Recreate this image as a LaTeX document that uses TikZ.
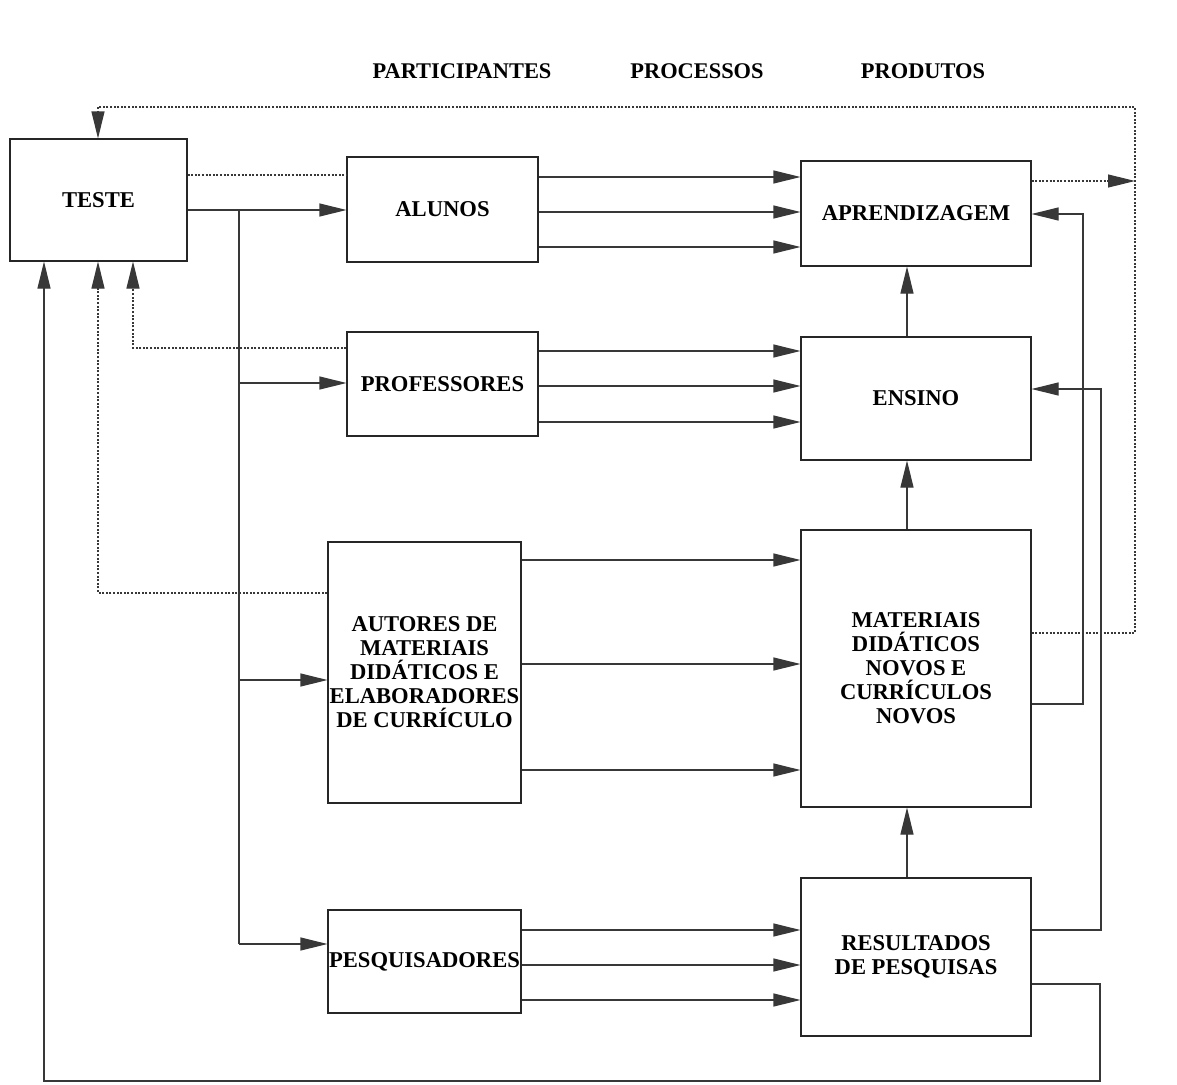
\documentclass[tikz,border=0pt]{standalone}
\usepackage{fontspec}
\setmainfont{Liberation Serif}
\usetikzlibrary{arrows.meta}
\begin{document}
\begin{tikzpicture}[x=1pt,y=-1pt,
  box/.style={draw=black!85,line width=1.1pt,inner sep=0pt,align=center,font=\fontsize{22.6}{24}\selectfont\bfseries},
  hdr/.style={font=\fontsize{22.4}{24}\selectfont\bfseries},
  link/.style={draw=black!78,line width=1.1pt},
  arr/.style={link,-{Triangle[length=27pt,width=13pt]}},
  dot/.style={draw=black!78,line width=1.1pt,dash pattern=on 2pt off 1.6pt},
  darr/.style={dot,-{Triangle[length=27pt,width=13pt]}}]
\useasboundingbox (0,0) rectangle (1177,1084);
\fill[white] (0,0) rectangle (1177,1084);

% headers
\node[hdr] (hpart) at (462,71) {PARTICIPANTES};
\node[hdr] (hproc) at (697,71) {PROCESSOS};
\node[hdr] (hprod) at (923,71) {PRODUTOS};

% boxes
\node[box,minimum width=177pt,minimum height=122pt] (teste) at (98.5,200) {TESTE};
\node[box,minimum width=191pt,minimum height=105pt] (alunos) at (442.5,209.5) {ALUNOS};
\node[box,minimum width=230pt,minimum height=105pt] (aprend) at (916,213.5) {APRENDIZAGEM};
\node[box,minimum width=191pt,minimum height=104pt] (prof) at (442.5,384) {PROFESSORES};
\node[box,minimum width=230pt,minimum height=123pt] (ensino) at (916,398.5) {ENSINO};
\node[box,minimum width=193pt,minimum height=261pt] (autores) at (424.5,672.5) {AUTORES DE\\MATERIAIS\\DIDÁTICOS E\\ELABORADORES\\DE CURRÍCULO};
\node[box,minimum width=230pt,minimum height=277pt] (mater) at (916,668.5) {MATERIAIS\\DIDÁTICOS\\NOVOS E\\CURRÍCULOS\\NOVOS};
\node[box,minimum width=193pt,minimum height=103pt] (pesq) at (424.5,961.5) {PESQUISADORES};
\node[box,minimum width=230pt,minimum height=158pt] (result) at (916,957) {RESULTADOS\\DE PESQUISAS};

% named corner coordinates
\coordinate (bTop) at (239,210);
\coordinate (bBot) at (239,944);
\coordinate (fTop) at (1135,107);
\coordinate (fLeft) at (98,107);
\coordinate (fMat) at (1135,633);
\coordinate (rA) at (1083,704);
\coordinate (rAtop) at (1083,214);
\coordinate (rE) at (1101,930);
\coordinate (rEtop) at (1101,389);
\coordinate (rB) at (1100,984);
\coordinate (rBbot) at (1100,1081);
\coordinate (lBot) at (44,1081);
\coordinate (pDot) at (133,348);
\coordinate (aDot) at (98,593);

% TESTE -> ALUNOS and branch
\draw[dot] (teste.east |- 0,175) -- (alunos.west |- 0,175);
\draw[arr] (teste.east |- bTop) -- (alunos.west |- bTop);
\draw[link] (bTop) -- (bBot);
\draw[arr] (bTop |- 0,383) -- (prof.west |- 0,383);
\draw[arr] (bTop |- 0,680) -- (autores.west |- 0,680);
\draw[arr] (bBot) -- (pesq.west |- bBot);

% participants -> products
\foreach \y in {177,212,247} \draw[arr] (alunos.east |- 0,\y) -- (aprend.west |- 0,\y);
\foreach \y in {351,386,422} \draw[arr] (prof.east |- 0,\y) -- (ensino.west |- 0,\y);
\foreach \y in {560,664,770} \draw[arr] (autores.east |- 0,\y) -- (mater.west |- 0,\y);
\foreach \y in {930,965,1000} \draw[arr] (pesq.east |- 0,\y) -- (result.west |- 0,\y);

% vertical product chain
\draw[arr] (result.north -| 907,0) -- (mater.south -| 907,0);
\draw[arr] (mater.north -| 907,0) -- (ensino.south -| 907,0);
\draw[arr] (ensino.north -| 907,0) -- (aprend.south -| 907,0);

% right-side feedbacks
\draw[darr] (aprend.east |- 0,181) -- (fTop |- 0,181);
\draw[darr] (mater.east |- fMat) -- (fMat) -- (fTop) -- (fLeft) -- (teste.north -| fLeft);
\draw[arr] (mater.east |- rA) -- (rA) -- (rAtop) -- (aprend.east |- rAtop);
\draw[arr] (result.east |- rE) -- (rE) -- (rEtop) -- (ensino.east |- rEtop);
\draw[arr] (result.east |- rB) -- (rB) -- (rBbot) -- (lBot) -- (teste.south -| lBot);

% left dotted feedbacks
\draw[darr] (prof.west |- pDot) -- (pDot) -- (teste.south -| pDot);
\draw[darr] (autores.west |- aDot) -- (aDot) -- (teste.south -| aDot);
\end{tikzpicture}
\end{document}
